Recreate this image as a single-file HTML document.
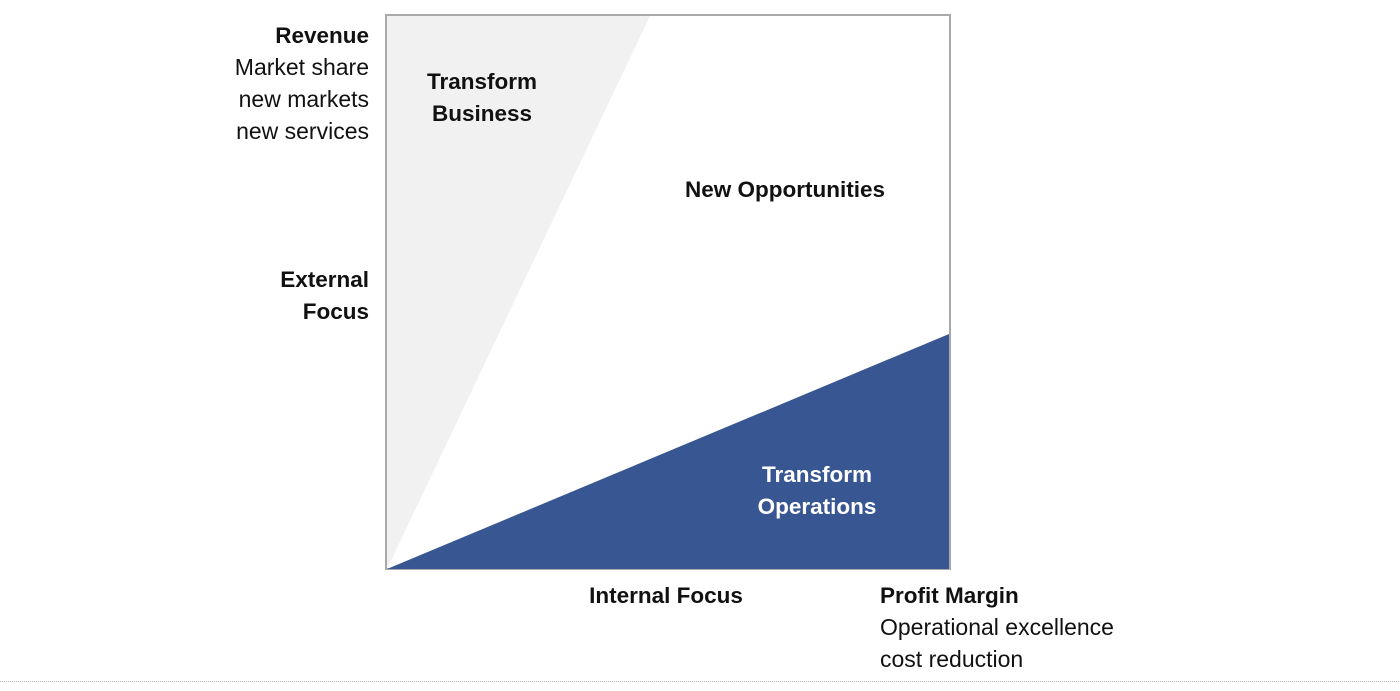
<!DOCTYPE html>
<html><head><meta charset="utf-8"><style>
html,body{margin:0;padding:0;background:#fff;width:1400px;height:691px;overflow:hidden}
svg{display:block}
text{font-family:"Liberation Sans",sans-serif;font-size:23px;fill:#111}
.b{font-weight:bold;font-size:22.5px}
</style></head><body>
<svg width="1400" height="691">
<g>
<rect x="386" y="15" width="564" height="554" fill="#fff" stroke="#a9a9ab" stroke-width="2"/>
<polygon points="387,569 387,16 650,16" fill="#f1f1f1"/>
<polygon points="387,569 949,334 949,569" fill="#385792"/>
</g>
<text class="b" x="482" y="89" text-anchor="middle">Transform</text>
<text class="b" x="482" y="121" text-anchor="middle">Business</text>
<text class="b" x="785" y="197" text-anchor="middle">New Opportunities</text>
<text class="b" x="817" y="482" text-anchor="middle" style="fill:#fff">Transform</text>
<text class="b" x="817" y="514" text-anchor="middle" style="fill:#fff">Operations</text>
<g text-anchor="end">
<text class="b" x="369" y="43">Revenue</text>
<text x="369" y="75">Market share</text>
<text x="369" y="107">new markets</text>
<text x="369" y="139">new services</text>
<text class="b" x="369" y="287">External</text>
<text class="b" x="369" y="319">Focus</text>
</g>
<text class="b" x="666" y="603" text-anchor="middle">Internal Focus</text>
<text class="b" x="880" y="603">Profit Margin</text>
<text x="880" y="635">Operational excellence</text>
<text x="880" y="667">cost reduction</text>
<line x1="0" y1="681.5" x2="1400" y2="681.5" stroke="#bbb" stroke-width="1" stroke-dasharray="1,1"/>
</svg>
</body></html>
